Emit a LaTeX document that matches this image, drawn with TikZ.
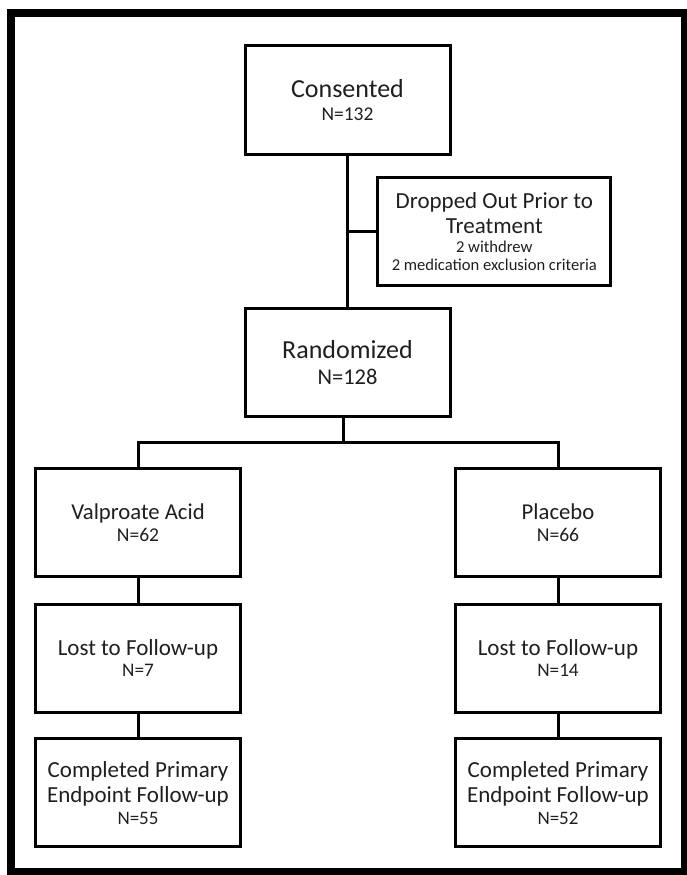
\documentclass[tikz,border=0pt]{standalone}
\usepackage{fontspec}
\setmainfont{Carlito}
\begin{document}
\begin{tikzpicture}[x=1pt,y=-1pt,
  box/.style={draw, line width=3pt, minimum width=205pt, minimum height=108pt, inner sep=0pt, align=center, text=black!88},
  conn/.style={line width=3pt},
  outerframe/.style={line width=8pt}]
\useasboundingbox (0,0) rectangle (687,875);
\draw[outerframe] (11,13) rectangle (685,872);

\node[box, font=\fontsize{26}{23.3}\selectfont] (cons) at (347.5,100)
  {Consented\\{\fontsize{19.5}{23.3}\selectfont N=132}};
\node[box, minimum width=233pt, font=\fontsize{23}{24.7}\selectfont] (drop) at (494.3,231.5)
  {Dropped Out Prior to\\Treatment\\[-5.2pt]{\fontsize{16.6}{17}\selectfont 2 withdrew}\\[-7pt]{\fontsize{16.6}{17}\selectfont 2 medication exclusion criteria}};
\node[box, font=\fontsize{26}{26.6}\selectfont] (rand) at (347.5,362.5)
  {Randomized\\{\fontsize{22.5}{26.6}\selectfont N=128}};
\node[box, font=\fontsize{22.7}{22.3}\selectfont] (val) at (138,522.7)
  {Valproate Acid\\{\fontsize{19.6}{22.3}\selectfont N=62}};
\node[box, font=\fontsize{22.7}{22.3}\selectfont] (plac) at (558,522.7)
  {Placebo\\{\fontsize{19.6}{22.3}\selectfont N=66}};
\node[box, font=\fontsize{23}{21.1}\selectfont] (lostl) at (138,658.3)
  {Lost to Follow-up\\{\fontsize{19.2}{21.1}\selectfont N=7}};
\node[box, font=\fontsize{23}{21.1}\selectfont] (lostr) at (558,658.3)
  {Lost to Follow-up\\{\fontsize{19.2}{21.1}\selectfont N=14}};
\node[box, font=\fontsize{23}{25}\selectfont] (compl) at (138,792.8)
  {Completed Primary\\Endpoint Follow-up\\[-3.3pt]{\fontsize{19}{21}\selectfont N=55}};
\node[box, font=\fontsize{23}{25}\selectfont] (compr) at (558,792.8)
  {Completed Primary\\Endpoint Follow-up\\[-3.3pt]{\fontsize{19}{21}\selectfont N=52}};

\coordinate (split) at (343,442.5);
\draw[conn] (cons.south) -- (rand.north);
\draw[conn] (drop.west) -- (drop.west -| cons.south);
\draw[conn] (rand.south -| split) -- (split);
\draw[conn] (val.north) -- (val.north |- split) -- (plac.north |- split) -- (plac.north);
\draw[conn] (val.south) -- (lostl.north);
\draw[conn] (lostl.south) -- (compl.north);
\draw[conn] (plac.south) -- (lostr.north);
\draw[conn] (lostr.south) -- (compr.north);
\end{tikzpicture}
\end{document}
